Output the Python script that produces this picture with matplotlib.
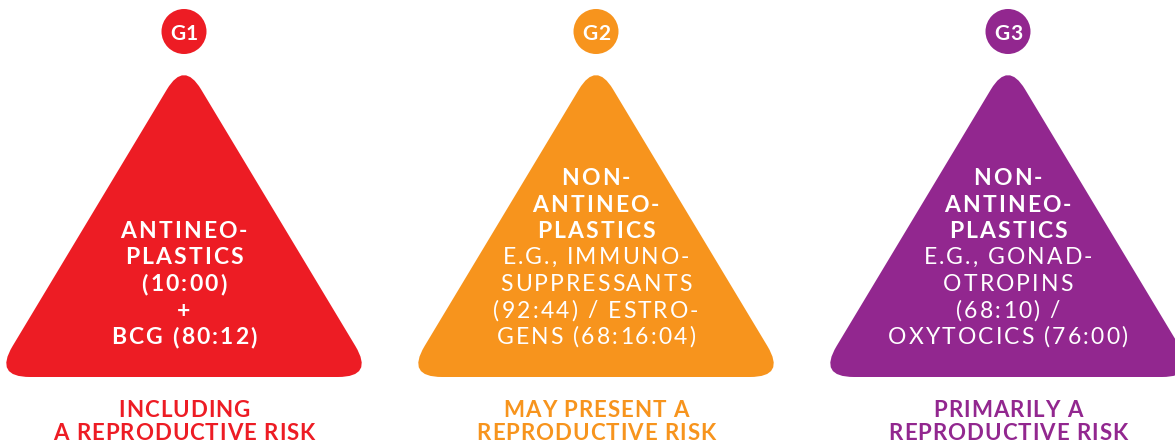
import matplotlib.pyplot as plt
from matplotlib.path import Path
from matplotlib.patches import PathPatch, Circle
from matplotlib.font_manager import FontProperties
from matplotlib.textpath import text_to_path

# ---------------------------------------------------------
# Content
# ---------------------------------------------------------
groups = ["G1", "G2", "G3"]
colors = ["#ED1C24", "#F7941D", "#92278F"]

# (text, bold) lines inside each triangle
body_lines = [
    [("ANTINEO-", True), ("PLASTICS", True), ("(10:00)", True),
     ("+", True), ("BCG (80:12)", True)],
    [("NON-", True), ("ANTINEO-", True), ("PLASTICS", True),
     ("E.G., IMMUNO-", False), ("SUPPRESSANTS", False),
     ("(92:44) / ESTRO-", False), ("GENS (68:16:04)", False)],
    [("NON-", True), ("ANTINEO-", True), ("PLASTICS", True),
     ("E.G., GONAD-", False), ("OTROPINS", False),
     ("(68:10) /", False), ("OXYTOCICS (76:00)", False)],
]

captions = [
    ["INCLUDING", "A REPRODUCTIVE RISK"],
    ["MAY PRESENT A", "REPRODUCTIVE RISK"],
    ["PRIMARILY A", "REPRODUCTIVE RISK"],
]

FONT = "Lato"
PX_PER_PT = 100 / 72


def ink_width(s, prop):
    if not s.strip():
        return 0.0
    w, _, _ = text_to_path.get_text_width_height_descent(s, prop, ismath=False)
    return w * PX_PER_PT


def tracked_text(ax, cx, y, s, track, size, bold, color):
    """Centered text with extra letter spacing (track in pixels)."""
    prop = FontProperties(family=FONT, weight="bold" if bold else "normal",
                          size=size)
    total = ink_width(s, prop) + track * (len(s) - 1)
    x0 = cx - total / 2
    for k, ch in enumerate(s):
        if ch == " ":
            continue
        off = ink_width(s[:k + 1], prop) - ink_width(ch, prop) if k else 0.0
        ax.text(x0 + off + k * track, y, ch, color=color, fontproperties=prop,
                ha="left", va="baseline")


def rounded_triangle(pts, radii):
    """Closed path through pts with corners rounded by quadratic curves."""
    def toward(a, b, dist):
        dx, dy = b[0] - a[0], b[1] - a[1]
        L = (dx * dx + dy * dy) ** 0.5
        return (a[0] + dx / L * dist, a[1] + dy / L * dist)

    verts, codes = [], []
    n = len(pts)
    for i in range(n):
        p, prev, nxt = pts[i], pts[i - 1], pts[(i + 1) % n]
        a = toward(p, prev, radii[i])
        b = toward(p, nxt, radii[i])
        verts += [a, p, b]
        codes += [Path.MOVETO if i == 0 else Path.LINETO,
                  Path.CURVE3, Path.CURVE3]
    verts.append(verts[0])
    codes.append(Path.CLOSEPOLY)
    return Path(verts, codes)


def main():
    W, H = 1175, 445
    fig = plt.figure(figsize=(W / 100, H / 100), dpi=100)
    ax = fig.add_axes([0, 0, 1, 1])
    ax.set_xlim(0, W)
    ax.set_ylim(H, 0)
    ax.axis("off")

    spacing = 412
    x0 = 184
    for i, g in enumerate(groups):
        cx = x0 + i * spacing
        col = colors[i]

        # badge
        ax.add_patch(Circle((cx, 31.5), 22.5, color=col, lw=0))
        tracked_text(ax, cx, 39.5, g, 1.0, 15, True, "white")

        # triangle
        tri = [(cx, 61), (cx + 190, 377), (cx - 190, 377)]
        ax.add_patch(PathPatch(rounded_triangle(tri, [33, 36, 36]),
                               facecolor=col, edgecolor="none"))

        # body text, last line baseline at 344
        lines = body_lines[i]
        step = 26.5
        y_base = 344 - step * (len(lines) - 1)
        for j, (txt, bold) in enumerate(lines):
            tracked_text(ax, cx, y_base + j * step, txt, 2.2 if bold else 2.1,
                         16.5, bold, "white")

        # caption
        for j, txt in enumerate(captions[i]):
            tracked_text(ax, cx, 417 + j * 23, txt, 1.0, 16, True, col)

    fig.savefig("out.png", dpi=100)


if __name__ == "__main__":
    main()
